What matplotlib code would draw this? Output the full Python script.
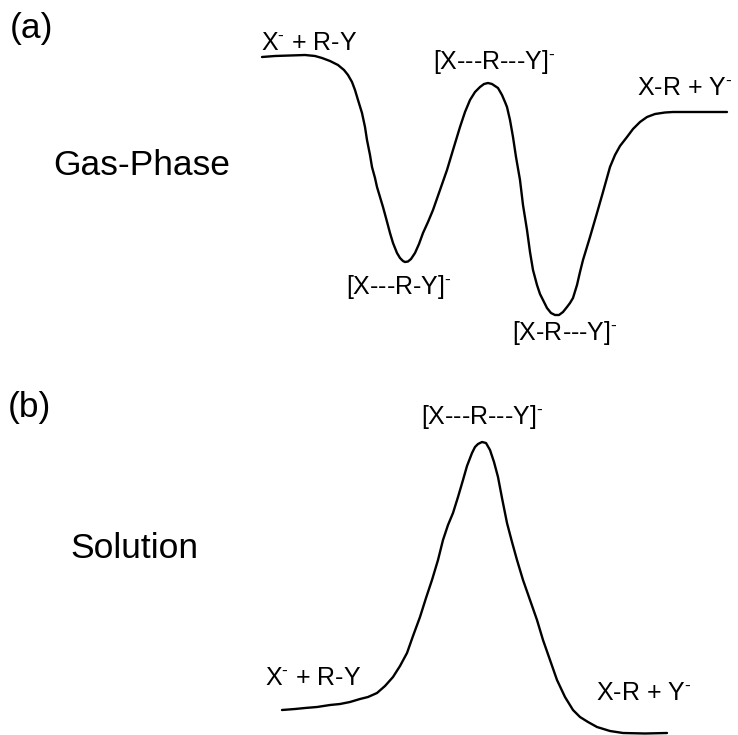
import matplotlib
matplotlib.use("Agg")
import matplotlib.pyplot as plt

# fuentes tipo Arial para todo el dibujo, incluido el superindice
plt.rcParams['font.family'] = ['Liberation Sans', 'DejaVu Sans']
plt.rcParams['mathtext.fontset'] = 'custom'
plt.rcParams['mathtext.rm'] = 'Liberation Sans'
plt.rcParams['mathtext.it'] = 'Liberation Sans'
plt.rcParams['mathtext.bf'] = 'Liberation Sans'

# perfil de energia en fase gas (coordenada de reaccion, energia; y crece hacia abajo)
gas_x = [262, 275, 290, 305, 315, 322, 330, 338, 344, 348, 352, 355, 358, 362, 365, 367,
         370, 372, 375, 377, 380, 383, 386, 390, 393, 397, 400, 403, 405, 408, 411, 415,
         419, 423, 428, 433, 440, 447, 453, 460, 465, 470, 475, 480, 484, 488, 492, 495,
         498, 502, 505, 507, 510, 513, 516, 520, 523, 527, 530, 533, 537, 540, 543, 547,
         551, 555, 559, 563, 567, 570, 573, 577, 580, 583, 590, 597, 603, 610, 615, 620,
         627, 633, 640, 647, 655, 665, 673, 690, 710, 727]
gas_y = [57, 56, 55.5, 55, 56, 58, 61, 65, 70, 75, 82, 90, 100, 113, 127, 140,
         155, 167, 178, 187, 197, 207, 218, 233, 243, 253, 258, 261, 262, 261.5, 259, 253,
         244, 233, 222, 210, 190, 170, 150, 127, 112, 100, 92, 87, 84, 83, 84, 86,
         88, 95, 102, 107, 120, 137, 157, 180, 205, 230, 252, 270, 285, 294, 300, 308,
         313, 315, 315, 312, 307, 303, 298, 285, 272, 260, 237, 213, 192, 167, 155, 146,
         137, 129, 122, 117, 114, 112.5, 112, 112, 112, 112]

# perfil de energia en disolucion
sol_x = [282, 295, 305, 317, 330, 340, 350, 360, 368, 377, 385, 393, 400, 407, 413, 420,
         426, 432, 438, 443, 448, 453, 458, 463, 467, 472, 475, 478, 482, 486, 490, 494,
         498, 502, 507, 512, 517, 523, 530, 537, 543, 550, 557, 565, 573, 580, 588, 597,
         610, 623, 645, 667]
sol_y = [710, 709, 708, 707, 705, 704, 702, 699, 697, 693, 686, 677, 666, 653, 636, 617,
         598, 580, 560, 540, 525, 513, 497, 480, 466, 453, 447, 444, 442, 443, 450, 462,
         477, 498, 523, 542, 560, 580, 600, 620, 640, 660, 680, 697, 710, 717, 722, 727,
         731, 733, 733.5, 733]

# etiquetas de cada especie
gas_labels = [r"X$^{\text{-}}$ + R-Y", r"[X---R---Y]$^{\text{-}}$", r"X-R + Y$^{\text{-}}$",
              r"[X---R-Y]$^{\text{-}}$", r"[X-R---Y]$^{\text{-}}$"]
gas_label_pos = [(309, 43), (494, 62), (685, 88), (399, 287), (565, 333)]
sol_labels = [r"[X---R---Y]$^{\text{-}}$", r"X$^{\text{-}}$ + R-Y", r"X-R + Y$^{\text{-}}$"]
sol_label_pos = [(482, 417), (313, 678), (644, 693)]

fig = plt.figure(figsize=(7.38, 7.35), dpi=100)
ax = fig.add_axes([0, 0, 1, 1])
ax.set_xlim(0, 738)
ax.set_ylim(735, 0)
ax.axis('off')

ax.plot(gas_x, gas_y, color='black', lw=1.7, solid_joinstyle='round', solid_capstyle='round')
ax.plot(sol_x, sol_y, color='black', lw=1.7, solid_joinstyle='round', solid_capstyle='round')

for txt, (x, y) in zip(gas_labels, gas_label_pos):
    ax.text(x, y, txt, fontsize=18, ha='center', va='center')
for txt, (x, y) in zip(sol_labels, sol_label_pos):
    ax.text(x, y, txt, fontsize=18, ha='center', va='center')

ax.text(10, 28, "(a)", fontsize=25.5, ha='left', va='center')
ax.text(53, 165, "Gas-Phase", fontsize=25.5, ha='left', va='center')
ax.text(8, 407, "(b)", fontsize=25.5, ha='left', va='center')
ax.text(70, 548, "Solution", fontsize=25.5, ha='left', va='center')

fig.savefig("out.png", dpi=100)
